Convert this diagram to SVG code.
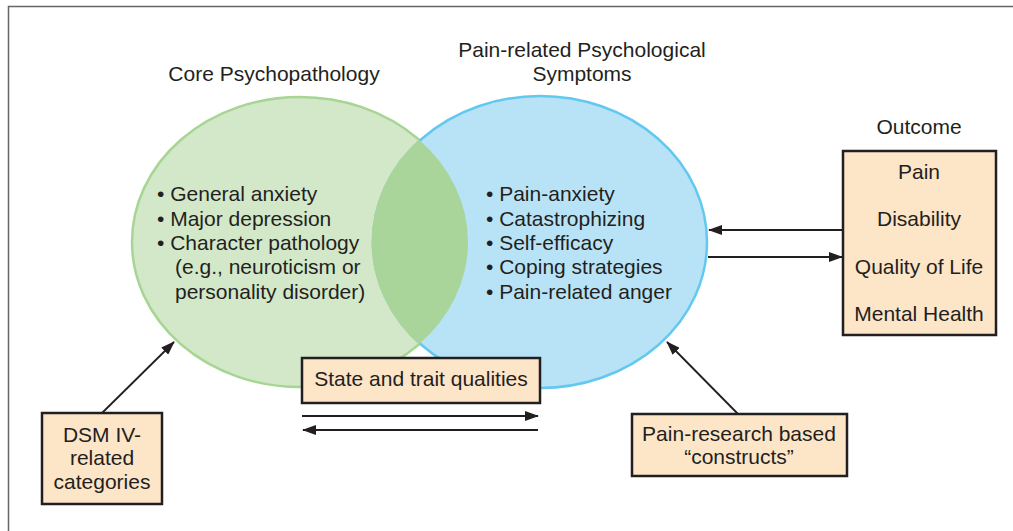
<svg xmlns="http://www.w3.org/2000/svg" width="1013" height="531" viewBox="0 0 1013 531">
<style>
text{font-family:"Liberation Sans",Arial,sans-serif;fill:#231f20;font-size:21px}
.c{text-anchor:middle}
.box{fill:#fde5c8;stroke:#231f20;stroke-width:2.5}
.ln{stroke:#231f20;stroke-width:1.8;fill:none}
</style>
<defs>
<marker id="ah" viewBox="0 0 14 10" refX="13" refY="5" markerWidth="14" markerHeight="10" markerUnits="userSpaceOnUse" orient="auto">
<path d="M0,0 L14,5 L0,10 Z" fill="#231f20"/>
</marker>
<clipPath id="blueClip"><ellipse cx="540" cy="242" rx="168.5" ry="147.5"/></clipPath>
</defs>
<rect width="1013" height="531" fill="#fff"/>
<path d="M8.5,531 V6.5 H1013" fill="none" stroke="#666" stroke-width="1.5"/>

<g id="core">
<ellipse cx="300" cy="242" rx="168" ry="145" fill="#d3e8c9" stroke="#a7d594" stroke-width="2.5"/>
</g>
<g id="pain-symptoms">
<ellipse cx="540" cy="242" rx="167" ry="146" fill="#b8e3f7" stroke="#63c8f0" stroke-width="2.5"/>
</g>
<g id="overlap">
<ellipse cx="300" cy="242" rx="168" ry="145" fill="#a9d59a" clip-path="url(#blueClip)"/>
</g>

<g id="labels">
<text class="c" x="274" y="81">Core Psychopathology</text>
<text class="c" x="582" y="57">Pain-related Psychological</text>
<text class="c" x="582" y="81">Symptoms</text>
<text class="c" x="919" y="134">Outcome</text>
</g>

<g id="core-list">
<text x="157" y="201">• General anxiety</text>
<text x="157" y="225.5">• Major depression</text>
<text x="157" y="250">• Character pathology</text>
<text x="175" y="274">(e.g., neuroticism or</text>
<text x="175" y="298.5">personality disorder)</text>
</g>
<g id="symptom-list">
<text x="486" y="201">• Pain-anxiety</text>
<text x="486" y="225.5">• Catastrophizing</text>
<text x="486" y="250">• Self-efficacy</text>
<text x="486" y="274">• Coping strategies</text>
<text x="486" y="298.5">• Pain-related anger</text>
</g>

<g id="outcome">
<rect class="box" x="843" y="151" width="153" height="184"/>
<text class="c" x="919" y="179">Pain</text>
<text class="c" x="919" y="226">Disability</text>
<text class="c" x="919" y="274">Quality of Life</text>
<text class="c" x="919" y="321">Mental Health</text>
</g>

<g id="state-trait">
<rect class="box" x="302" y="358" width="238" height="45"/>
<text class="c" x="421" y="386">State and trait qualities</text>
</g>

<g id="dsm">
<rect class="box" x="42" y="413" width="120" height="91"/>
<text class="c" x="102" y="442">DSM IV-</text>
<text class="c" x="102" y="465">related</text>
<text class="c" x="102" y="489">categories</text>
</g>

<g id="pain-research">
<rect class="box" x="632" y="414" width="215" height="62"/>
<text class="c" x="739" y="441">Pain-research based</text>
<text class="c" x="739" y="464">“constructs”</text>
</g>

<g id="connectors">
<line class="ln" x1="843" y1="230" x2="709" y2="230" marker-end="url(#ah)"/>
<line class="ln" x1="708" y1="257" x2="842" y2="257" marker-end="url(#ah)"/>
<line class="ln" x1="302" y1="416" x2="538" y2="416" marker-end="url(#ah)"/>
<line class="ln" x1="538" y1="430" x2="303" y2="430" marker-end="url(#ah)"/>
<line class="ln" x1="102" y1="413" x2="174" y2="342" marker-end="url(#ah)"/>
<line class="ln" x1="738" y1="414" x2="667" y2="342" marker-end="url(#ah)"/>
</g>
</svg>
